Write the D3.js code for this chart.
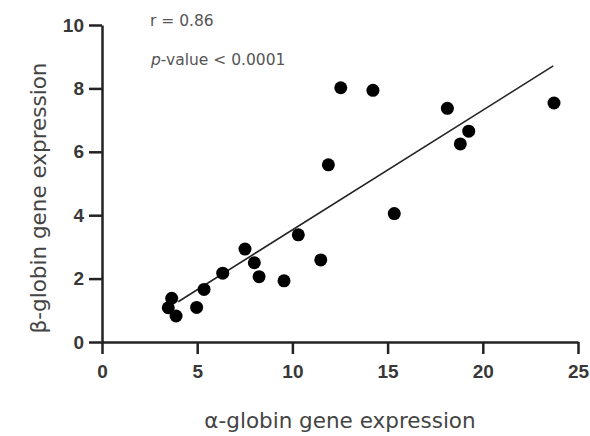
<!DOCTYPE html>
<html>
<head>
<meta charset="utf-8">
<script src="https://cdn.jsdelivr.net/npm/d3@7"></script>
<style>
  body { margin: 0; background: #fff; }
  .tick text { font-family: Arial, "Liberation Sans", sans-serif; font-weight: bold; fill: #383838; }
</style>
</head>
<body>
<svg width="590" height="436"></svg>
<script>
// values
const alpha = [3.66, 3.48, 3.89, 4.97, 5.36, 6.34, 7.51, 8.0, 8.25, 9.56, 10.31, 11.49,
    15.35, 12.54, 14.23, 11.89, 18.14, 19.26, 18.82, 23.74];
const beta = [1.38, 1.08, 0.82, 1.09, 1.66, 2.17, 2.93, 2.50, 2.06, 1.93, 3.38, 2.59,
    4.05, 8.02, 7.94, 5.59, 7.37, 6.65, 6.25, 7.54];
// fitted line ends
const fitX = [4.0, 23.7];
const fitY = [1.27, 8.71];
const xTicks = [0, 5, 10, 15, 20, 25];
const yTicks = [0, 2, 4, 6, 8, 10];

const svg = d3.select("svg");
const m = {left: 102, right: 578, top: 25, bottom: 342};

const x = d3.scaleLinear().domain([0, 25]).range([m.left, m.right]);
const y = d3.scaleLinear().domain([0, 10]).range([m.bottom, m.top]);

// axes
const xAxis = svg.append("g")
    .attr("transform", "translate(0," + m.bottom + ")")
    .call(d3.axisBottom(x).tickValues(xTicks).tickSize(12).tickSizeOuter(0).tickPadding(11));
const yAxis = svg.append("g")
    .attr("transform", "translate(" + m.left + ",0)")
    .call(d3.axisLeft(y).tickValues(yTicks).tickSize(13).tickSizeOuter(0).tickPadding(5));

[xAxis, yAxis].forEach(a => {
    a.select(".domain").attr("stroke", "#222").attr("stroke-width", 2.5);
    a.selectAll(".tick line").attr("stroke", "#222").attr("stroke-width", 2.5);
    a.selectAll(".tick text").style("font-size", "19px");
});

// regression line
svg.append("line")
    .attr("x1", x(fitX[0])).attr("y1", y(fitY[0]))
    .attr("x2", x(fitX[1])).attr("y2", y(fitY[1]))
    .attr("stroke", "#222").attr("stroke-width", 1.6);

// points
svg.append("g")
    .selectAll("circle")
    .data(alpha.map((a, i) => [a, beta[i]]))
    .enter().append("circle")
    .attr("cx", d => x(d[0]))
    .attr("cy", d => y(d[1]))
    .attr("r", 6.5)
    .attr("fill", "#000");

// axis titles
svg.append("text")
    .attr("x", 340).attr("y", 428)
    .attr("text-anchor", "middle")
    .style("font-family", "'DejaVu Sans', sans-serif")
    .style("font-size", "21.5px")
    .style("fill", "#444")
    .text("α-globin gene expression");

svg.append("text")
    .attr("transform", "translate(46,198) rotate(-90)")
    .attr("text-anchor", "middle")
    .style("font-family", "'DejaVu Sans', sans-serif")
    .style("font-size", "21.5px")
    .style("fill", "#444")
    .text("β-globin gene expression");

// stats
const stats = svg.append("g")
    .style("font-family", "'DejaVu Sans', sans-serif")
    .style("font-size", "15.5px")
    .style("fill", "#555");
stats.append("text").attr("x", 150).attr("y", 26).text("r = 0.86");
const p = stats.append("text").attr("x", 151).attr("y", 65);
p.append("tspan").style("font-style", "italic").text("p");
p.append("tspan").text("-value < 0.0001");
</script>
</body>
</html>
